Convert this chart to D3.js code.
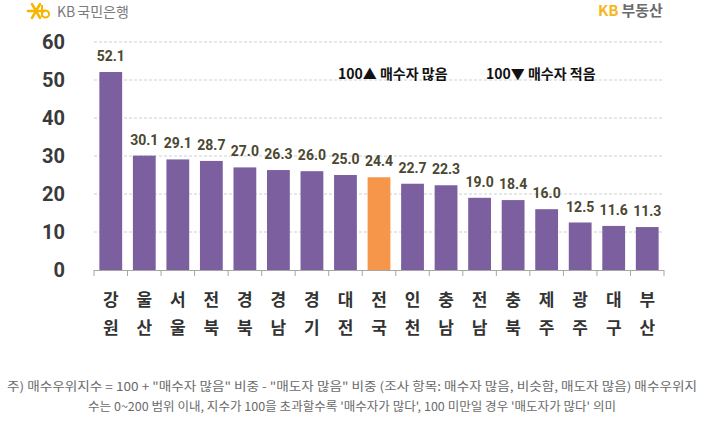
<!DOCTYPE html>
<html>
<head>
<meta charset="utf-8">
<script src="https://cdn.jsdelivr.net/npm/d3@7"></script>
<style>
  body { margin: 0; background: #fff; }
  svg { display: block; font-family: "Noto Sans CJK KR", "Noto Sans", sans-serif; }
</style>
</head>
<body>
<svg id="chart" width="704" height="424"></svg>
<script>
// 지역별 매수우위지수
const regionTop = ["강","울","서","전","경","경","경","대","전","인","충","전","충","제","광","대","부"];
const regionBottom = ["원","산","울","북","북","남","기","전","국","천","남","남","북","주","주","구","산"];
const values = [52.1, 30.1, 29.1, 28.7, 27.0, 26.3, 26.0, 25.0, 24.4, 22.7, 22.3, 19.0, 18.4, 16.0, 12.5, 11.6, 11.3];
const yTicks = [0, 10, 20, 30, 40, 50, 60];
const highlightIndex = 8; // 전국

const footnote = [
  "주) 매수우위지수 = 100 + \"매수자 많음\" 비중 - \"매도자 많음\" 비중 (조사 항목: 매수자 많음, 비슷함, 매도자 많음) 매수우위지",
  "수는 0~200 범위 이내, 지수가 100을 초과할수록 '매수자가 많다', 100 미만일 경우 '매도자가 많다' 의미"
];

const svg = d3.select("#chart");
const plotLeft = 94, plotRight = 664, plotTop = 42, plotBottom = 270;

const data = values.map((v, i) => ({i: i, top: regionTop[i], bot: regionBottom[i], value: v}));

const x = d3.scaleBand()
    .domain(d3.range(values.length))
    .range([plotLeft, plotRight])
    .paddingInner(0.32)
    .paddingOuter(0.16);

const y = d3.scaleLinear()
    .domain([0, 60])
    .range([plotBottom, plotTop]);

// 가로 점선 그리드
svg.append("g")
  .selectAll("line")
  .data(yTicks.filter(d => d > 0))
  .join("line")
    .attr("x1", plotLeft)
    .attr("x2", plotRight)
    .attr("y1", d => y(d))
    .attr("y2", d => y(d))
    .attr("stroke", "#cfcfcf")
    .attr("stroke-width", 1)
    .attr("stroke-dasharray", "3,2");

// y축 라벨
svg.append("g")
  .selectAll("text")
  .data(yTicks)
  .join("text")
    .attr("x", 65)
    .attr("y", d => y(d))
    .attr("dy", "0.36em")
    .attr("text-anchor", "end")
    .attr("font-family", "Roboto, 'Noto Sans', sans-serif")
    .attr("font-size", 20)
    .attr("font-weight", "bold")
    .attr("fill", "#3a3a3a")
    .text(d => d);

// 막대
svg.append("g")
  .selectAll("rect")
  .data(data)
  .join("rect")
    .attr("x", d => x(d.i))
    .attr("y", d => y(d.value))
    .attr("width", x.bandwidth())
    .attr("height", d => y(0) - y(d.value))
    .attr("fill", d => d.i === highlightIndex ? "#f5964a" : "#7b5f9f");

// 하단 축선과 눈금
const step = x.step();
svg.append("line")
    .attr("x1", plotLeft).attr("x2", plotRight)
    .attr("y1", plotBottom + 0.5).attr("y2", plotBottom + 0.5)
    .attr("stroke", "#a6a6a6");
svg.append("g")
  .selectAll("line")
  .data(d3.range(values.length + 1))
  .join("line")
    .attr("x1", d => plotLeft + d * step)
    .attr("x2", d => plotLeft + d * step)
    .attr("y1", plotBottom)
    .attr("y2", plotBottom + 6)
    .attr("stroke", "#a6a6a6");

// 값 라벨
svg.append("g")
  .selectAll("text")
  .data(data)
  .join("text")
    .attr("x", d => x(d.i) + x.bandwidth() / 2)
    .attr("y", d => y(d.value) - 11)
    .attr("text-anchor", "middle")
    .attr("font-family", "Roboto, 'Noto Sans', sans-serif")
    .attr("font-size", 14)
    .attr("font-weight", "bold")
    .attr("fill", "#4b4731")
    .text(d => d.value.toFixed(1));

// 지역명 (두 줄)
const labels = svg.append("g")
  .selectAll("text")
  .data(data)
  .join("text")
    .attr("text-anchor", "middle")
    .attr("font-size", 17)
    .attr("font-weight", "bold")
    .attr("fill", "#333");
labels.append("tspan")
    .attr("x", d => x(d.i) + x.bandwidth() / 2)
    .attr("y", 306)
    .text(d => d.top);
labels.append("tspan")
    .attr("x", d => x(d.i) + x.bandwidth() / 2)
    .attr("y", 334)
    .text(d => d.bot);

// 범례 문구
svg.append("text")
    .attr("x", 338).attr("y", 79)
    .attr("font-size", 14).attr("font-weight", "bold").attr("fill", "#111")
    .text("100▲ 매수자 많음");
svg.append("text")
    .attr("x", 486).attr("y", 79)
    .attr("font-size", 14).attr("font-weight", "bold").attr("fill", "#111")
    .text("100▼ 매수자 적음");

// KB국민은행 로고
const logo = svg.append("g").attr("transform", "translate(36,11)");
[0, 60, 120].forEach(a => {
  logo.append("line")
      .attr("x1", -8).attr("x2", 8).attr("y1", 0).attr("y2", 0)
      .attr("transform", `rotate(${a})`)
      .attr("stroke", "#f7b500").attr("stroke-width", 2.6)
      .attr("stroke-linecap", "round");
});
logo.append("path")
    .attr("d", "M6,-6 L6,6 M6,3 a3.5,3.5 0 1 0 7,0 a3.5,3.5 0 1 0 -7,0")
    .attr("fill", "none").attr("stroke", "#f7b500").attr("stroke-width", 2);
const bank = svg.append("text")
    .attr("x", 57).attr("y", 17)
    .attr("font-size", 14).attr("fill", "#7a7a7a");
bank.append("tspan").text("KB");
bank.append("tspan").attr("dx", 2).text("국민은행");

// KB부동산
const kb = svg.append("text")
    .attr("x", 598).attr("y", 16)
    .attr("font-size", 15).attr("font-weight", "bold");
kb.append("tspan").attr("fill", "#f6b621").text("KB");
kb.append("tspan").attr("fill", "#6b6b6b").attr("dx", 3).text("부동산");

// 주석
svg.append("g")
  .selectAll("text")
  .data(footnote)
  .join("text")
    .attr("x", 352)
    .attr("y", (d, i) => 391 + i * 20)
    .attr("text-anchor", "middle")
    .attr("font-size", 12)
    .attr("fill", "#6a6a6a")
    .attr("textLength", (d, i) => i === 0 ? 690 : 528)
    .attr("lengthAdjust", "spacingAndGlyphs")
    .text(d => d);
</script>
</body>
</html>
